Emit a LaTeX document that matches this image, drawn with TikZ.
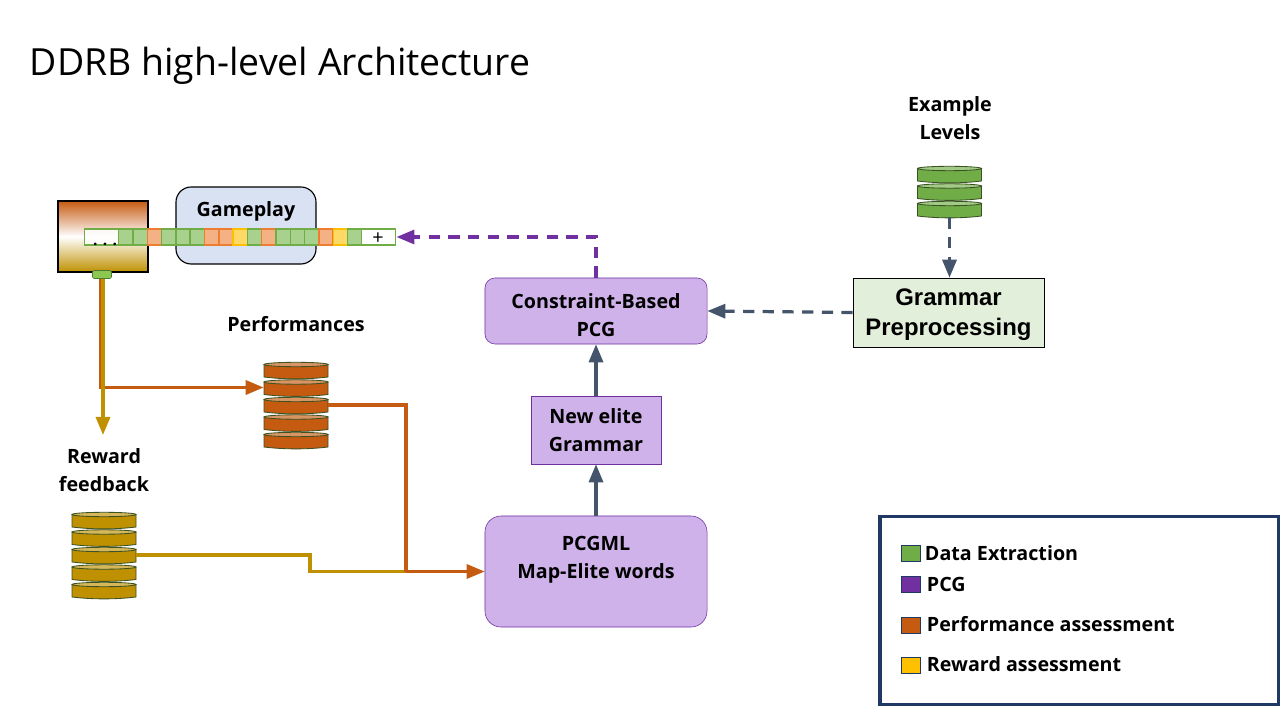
\documentclass[tikz,border=0pt]{standalone}
\usepackage{fontspec}
\setmainfont{Open Sans}
\newfontfamily\arialfont{Liberation Sans}
\usetikzlibrary{arrows.meta}

\definecolor{purplebox}{HTML}{CFB2E9}
\definecolor{purpleline}{HTML}{7030A0}
\definecolor{slateline}{HTML}{44546A}
\definecolor{navyline}{HTML}{1F3864}
\definecolor{orangeline}{HTML}{C55A11}
\definecolor{goldline}{HTML}{BF9000}
\definecolor{greendisk}{HTML}{70AD47}
\definecolor{diskedge}{HTML}{3B5323}
\definecolor{yellowkey}{HTML}{FFC000}
\definecolor{playfill}{HTML}{D9E2F3}
\definecolor{tabfill}{HTML}{8CC850}
\definecolor{greenfill}{HTML}{A9D18E}
\definecolor{orangefill}{HTML}{F4B183}
\definecolor{orangeedge}{HTML}{ED7D31}
\definecolor{yellowfill}{HTML}{FFD966}

\tikzset{
  pcgbox/.style={draw=purpleline, fill=purplebox},
  label/.style={align=center, font=\fontsize{14}{20}\selectfont\bfseries},
  keytext/.style={anchor=west, font=\fontsize{14}{16}\selectfont\bfseries},
  keybox/.style={draw=navyline, line width=.5pt, minimum width=.475cm, minimum height=.4cm, inner sep=0pt},
  cellbox/.style={draw=#1, line width=1pt, minimum width=.357cm, minimum height=.4cm, inner sep=0pt, anchor=west},
  greencell/.style={cellbox=greendisk, fill=greenfill},
  orangecell/.style={cellbox=orangeedge, fill=orangefill},
  yellowcell/.style={cellbox=yellowkey, fill=yellowfill},
  solidflow/.style={line width=2.3pt, -{Triangle[length=.45cm,width=.35cm]}},
  dashflow/.style={solidflow, dash pattern=on 8pt off 6pt},
  plainflow/.style={line width=2.2pt},
}

% one stack of disks: name, centre x, top y, number of disks, colour
\newcommand{\diskstack}[5]{
  \foreach \i in {1,...,#4} {
    \pgfmathsetmacro{\ytop}{#3+(\i-1)*17.5}
    \pgfmathsetmacro{\ybot}{\ytop+15}
    \draw [fill=#5, draw=diskedge, line width=.6pt] (#2-32,\ytop+2.5) -- (#2-32,\ybot)
      .. controls (#2-12,\ybot+2.5) and (#2+12,\ybot+2.5) .. (#2+32,\ybot) -- (#2+32,\ytop+2.5) -- cycle;
    \draw [fill=#5!65!white, draw=diskedge, line width=.6pt] (#2,\ytop+2.5) ellipse [x radius=32, y radius=2.2];
    \node (#1-\i) [minimum width=1.6cm, minimum height=.4cm, inner sep=0pt] at (#2,\ytop+8) {};
  }
}

\begin{document}
\begin{tikzpicture}[x=.025cm, y=-.025cm]
  \useasboundingbox (0,0) rectangle (1280,720);

  \node (title) [anchor=west, font=\fontsize{26.6}{30}\selectfont] at (25,66) {DDRB high-level Architecture};

  % game and gameplay
  \node (gameplay) [draw=black, line width=.8pt, fill=playfill, rounded corners=.38cm, minimum width=3.5cm, minimum height=1.925cm] at (246,225.5) {};
  \node (gameplaylabel) [label] at (246,211) {Gameplay};
  \node (game) [draw=black, line width=.8pt, minimum width=2.25cm, minimum height=1.775cm, top color=orangeline, bottom color=goldline, middle color=white] at (103,236.5) {};
  \node (gametab) [draw=greendisk!70!black, fill=tabfill, rounded corners=1pt, minimum width=.475cm, minimum height=.2cm, inner sep=0pt] at (102,274.5) {};

  % the strip of words
  \node (startcell) [cellbox=greendisk, fill=white, fill opacity=.8, minimum width=.85cm] at (84,237) {};
  \node (startdots) [font=\fontsize{11}{11}\selectfont\bfseries] at (105,244) {. . .};
  \foreach \cellstyle [count=\i] in {greencell,greencell,orangecell,greencell,greencell,greencell,orangecell,orangecell,yellowcell,greencell,orangecell,greencell,greencell,greencell,orangecell,yellowcell,greencell} {
    \node (cell\i) [\cellstyle] at (118+\i*14.3-14.3,237) {};
  }
  \node (pluscell) [cellbox=greendisk, fill=white, minimum width=.85cm] at (361,237) {};
  \node (pluslabel) [font=\fontsize{14}{14}\selectfont] at (378,239) {+};

  % right and middle boxes
  \node (examplelabel) [label] at (950,118) {Example\\Levels};
  \diskstack{examples}{949.5}{166}{3}{greendisk}
  \node (grammar) [draw=black, fill=greendisk!20!white, minimum width=4.775cm, minimum height=1.725cm] at (948.5,312.5) {};
  \node (grammarlabel) [align=center, font=\fontsize{17}{21}\selectfont\arialfont\bfseries] at (948.5,314.5) {Grammar\\Preprocessing};
  \node (cbpcg) [pcgbox, rounded corners=.25cm, minimum width=5.55cm, minimum height=1.65cm] at (596,311) {};
  \node (cbpcglabel) [label] at (596,315) {Constraint-Based\\PCG};
  \node (elite) [pcgbox, minimum width=3.25cm, minimum height=1.7cm] at (596,430) {};
  \node (elitelabel) [label] at (596,430) {New elite\\Grammar};
  \node (pcgml) [pcgbox, rounded corners=.4cm, minimum width=5.55cm, minimum height=2.775cm] at (596,571.5) {};
  \node (pcgmllabel) [label] at (596,560) {PCGML\\Map-Elite words};

  % stacks on the left
  \node (perflabel) [label] at (296,324) {Performances};
  \diskstack{perf}{296}{362}{5}{orangeline}
  \node (rewardlabel) [label] at (104,470) {Reward\\feedback};
  \diskstack{reward}{104}{512}{5}{goldline}

  % connectors
  \coordinate (perfjoin) at (406,571.5);
  \coordinate (rewardbend) at (310,571.5);
  \coordinate (orangestart) at (101,279);
  \coordinate (goldstart) at (103,279);
  \coordinate (goldend) at (103,435);
  \draw [solidflow, orangeline] (orangestart) |- (perf-2.west);
  \draw [solidflow, goldline] (goldstart) -- (goldend);
  \draw [plainflow, goldline] (reward-3.east) -| (rewardbend) -- (perfjoin);
  \draw [plainflow, orangeline] (perf-3.east) -| (perfjoin);
  \draw [solidflow, orangeline] (perfjoin) -- (pcgml.west);
  \draw [solidflow, slateline] (pcgml.north) -- (elite.south);
  \draw [solidflow, slateline] (elite.north) -- (cbpcg.south);
  \draw [dashflow, purpleline] (cbpcg.north) |- (pluscell.east);
  \draw [dashflow, slateline] (grammar.west) -- (cbpcg.east);
  \draw [dashflow, slateline] (examples-3.south) -- (grammar.north -| examples-3.south);

  % key
  \node (keyframe) [draw=navyline, line width=2.8pt, minimum width=9.95cm, minimum height=4.7cm] at (1079.5,610.5) {};
  \node (keydata) [keybox, fill=greendisk] at (910.5,553) {};
  \node (keypcg) [keybox, fill=purpleline] at (910.5,584) {};
  \node (keyperf) [keybox, fill=orangeline] at (910.5,625) {};
  \node (keyreward) [keybox, fill=yellowkey] at (910.5,665) {};
  \node (keydatatext) [keytext] at (920,553) {Data Extraction};
  \node (keypcgtext) [keytext] at (922,584) {PCG};
  \node (keyperftext) [keytext] at (922,624) {Performance assessment};
  \node (keyrewardtext) [keytext] at (922,664) {Reward assessment};

\end{tikzpicture}
\end{document}
